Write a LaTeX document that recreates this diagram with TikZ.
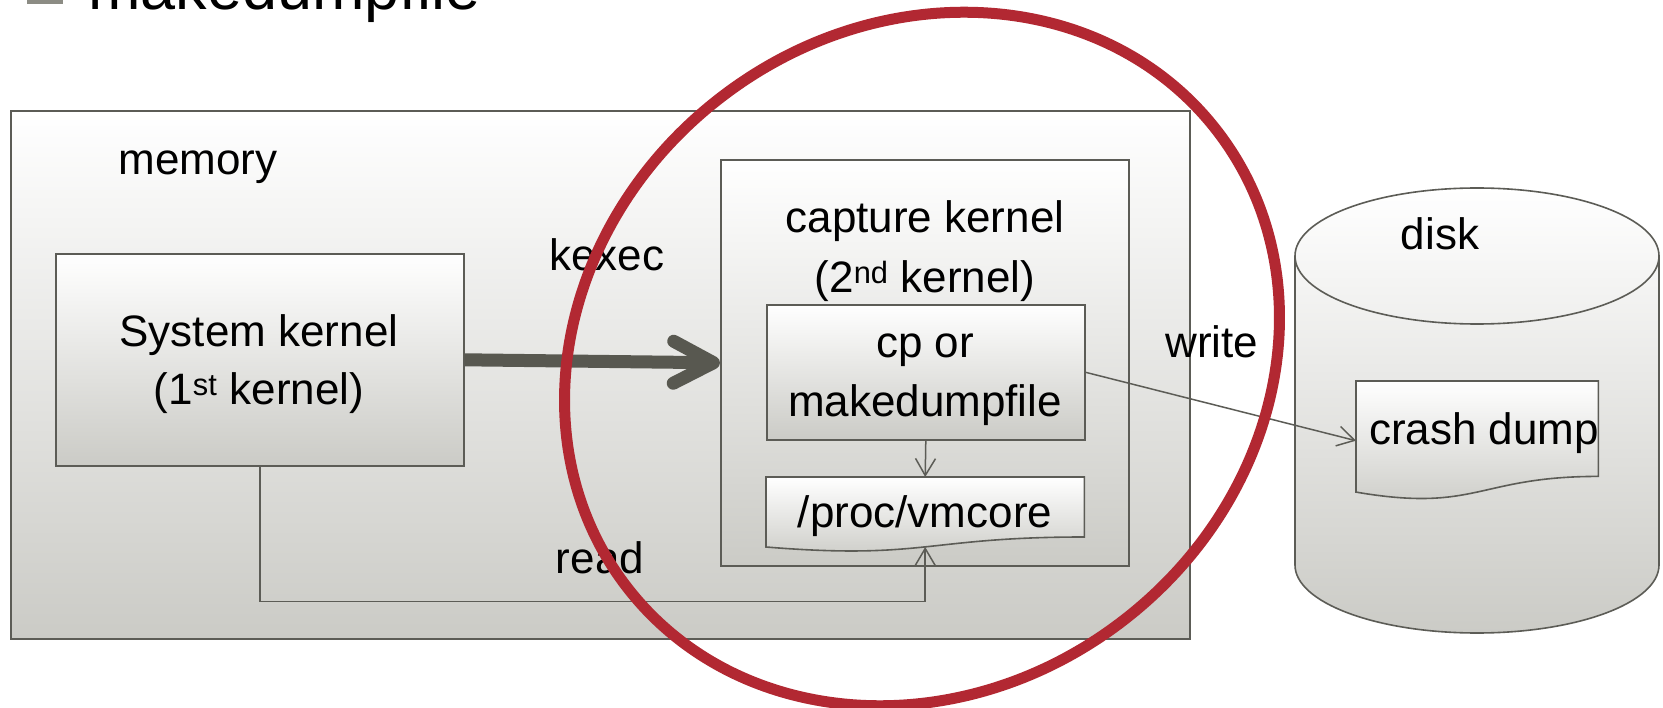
\documentclass[tikz,border=0pt]{standalone}
\usepackage{fontspec}
\setmainfont{Liberation Sans}
\usetikzlibrary{arrows.meta,calc}
\definecolor{edge}{RGB}{92,92,86}
\definecolor{shadebot}{RGB}{203,203,198}
\definecolor{kexecgray}{RGB}{88,88,80}
\definecolor{ringred}{RGB}{178,40,50}
\definecolor{bulletgray}{RGB}{140,140,132}
\begin{document}
\begin{tikzpicture}[x=1pt,y=-1pt,
  panel/.style={rectangle, draw=edge, line width=1.6pt, top color=white,
    bottom color=shadebot, inner sep=0pt, anchor=north west},
  slot/.style={rectangle, inner sep=0pt, anchor=north west},
  docpage/.style={draw=edge, line width=1.6pt, top color=white, bottom color=shadebot},
  lbl/.style={font=\fontsize{44}{53}\selectfont, inner sep=0pt, anchor=base},
  flow/.style={draw=edge, line width=1.5pt, -{Straight Barb[length=17pt,width=20pt]}},
  bigflow/.style={draw=kexecgray, line width=13pt,
    -{Straight Barb[length=40pt,width=42pt,round]}},
  ring/.style={draw=ringred, line width=11pt}]

\fill[white] (0,0) rectangle (1663,708);
\useasboundingbox (0,0) rectangle (1663,708);

% heading, cut off by the top edge
\fill[bulletgray] (27,-20) rectangle (63,4);
\node[font=\fontsize{63}{70}\selectfont, inner sep=0pt, anchor=base west] (title) at (88,10) {makedumpfile};

% memory area with the two kernels
\node[panel, minimum width=1179pt, minimum height=528pt] (mem) at (10,110) {};
\node[lbl] (memlbl) at (198,175) {memory};

\node[panel, minimum width=408pt, minimum height=212pt] (sys) at (55,253) {};
\node[lbl] (sys1) at (259,347) {System kernel};
\node[lbl] (sys2) at (259,405) {(1\textsuperscript{st} kernel)};

\node[panel, minimum width=408pt, minimum height=406pt] (cap) at (720,159) {};
\node[lbl] (cap1) at (925,233) {capture kernel};
\node[lbl] (cap2) at (925,293) {(2\textsuperscript{nd} kernel)};

\node[panel, minimum width=318pt, minimum height=135pt] (cp) at (766,304) {};
\node[lbl] (cp1) at (925,358) {cp or};
\node[lbl] (cp2) at (925,417) {makedumpfile};

% /proc/vmcore as a document page
\node[slot, minimum width=318pt, minimum height=75pt] (vm) at (766,477) {};
\path[docpage] (vm.north west) -- (vm.north east) -- ($(vm.north east)+(0,60)$)
  .. controls ($(vm.north)+(0,60)$) and ($(vm.north)+(0,83)$) .. ($(vm.north west)+(0,70)$) -- cycle;
\coordinate (vmb) at ($(vm.north)+(0,70)$);
\node[lbl] (vmlbl) at (925,527) {/proc/vmcore};

% disk cylinder
\path[docpage] (1295,256) .. controls (1295,218.4) and (1376.5,188) .. (1477,188)
  .. controls (1577.5,188) and (1659,218.4) .. (1659,256) -- (1659,565)
  .. controls (1659,602.6) and (1577.5,633) .. (1477,633)
  .. controls (1376.5,633) and (1295,602.6) .. (1295,565) -- cycle;
\draw[edge, line width=1.6pt] (1295,256) .. controls (1295,293.6) and (1376.5,324) .. (1477,324)
  .. controls (1577.5,324) and (1659,293.6) .. (1659,256);
\node[lbl] (disklbl) at (1440,250) {disk};

% crash dump as a document page
\node[slot, minimum width=242pt, minimum height=119pt] (cd) at (1356,381) {};
\path[docpage] (cd.north west) -- (cd.north east) -- ($(cd.north east)+(0,95.4)$)
  .. controls ($(cd.north)+(0,95.4)$) and ($(cd.north)+(0,131.9)$) .. ($(cd.north west)+(0,111.1)$) -- cycle;
\node[lbl] (cdlbl) at (1484,445) {crash dump};

% connectors
\draw[bigflow] (sys.east) -- (cap.west);
\node[lbl] (kexeclbl) at (607,271) {kexec};
\draw[flow] (cp.south) -- (vm.north);
\draw[flow] (sys.south) -- ++(0,135) -| (vmb);
\node[lbl] (readlbl) at (600,573) {read};
\draw[flow] (cp.east) -- (cd.west);
\node[lbl] (writelbl) at (1212,358) {write};

% highlight ring
\draw[ring, rotate around={37.8:(922,359)}] (922,359) ellipse [x radius=373pt, y radius=330pt];
\end{tikzpicture}
\end{document}
